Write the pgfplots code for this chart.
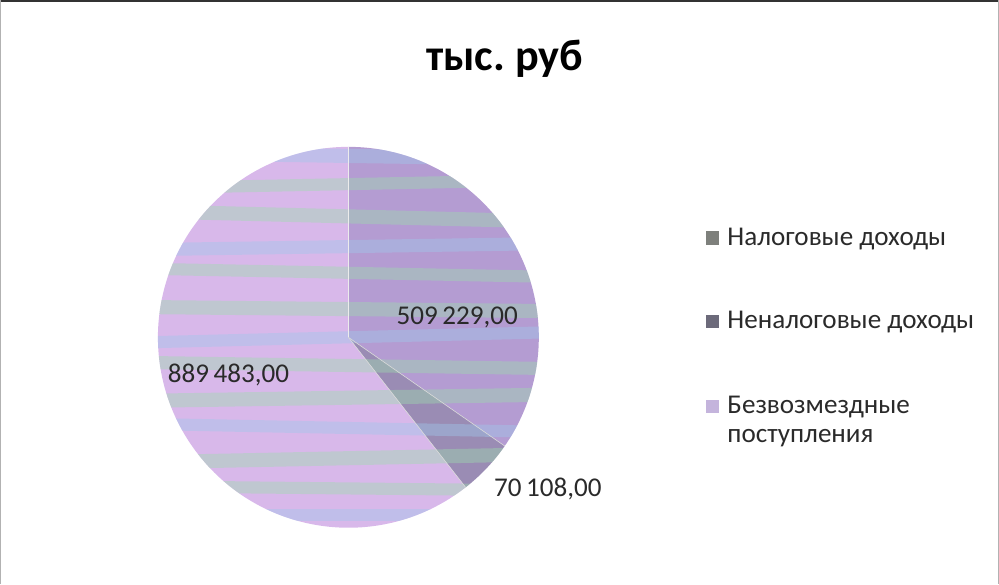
\documentclass[border=0pt]{standalone}
\usepackage{pgfplots}
\pgfplotsset{compat=1.18}
\usepackage{pgfplotstable}
\usepackage{fontspec}
\setmainfont{Carlito}

\definecolor{s1}{HTML}{B49CD2}
\definecolor{s2}{HTML}{9A8CB4}
\definecolor{s3}{HTML}{D8B8EA}
\definecolor{sg}{HTML}{9EDCAE}
\definecolor{sb}{HTML}{A0C8EC}
\definecolor{l1}{HTML}{7E807C}
\definecolor{l2}{HTML}{6C6A7A}
\definecolor{l3}{HTML}{C4B4DC}
\definecolor{txt}{HTML}{2A2A2A}

\newcommand\stripe[4]{\fill[#4,opacity=0.42] (axis cs:150,{#1+#2/2+#3}) -- (axis cs:550,{#1+#2/2-#3}) -- (axis cs:550,{#1-#2/2-#3}) -- (axis cs:150,{#1-#2/2+#3}) -- cycle;}

\pgfplotstableread{
value
509229
70108
889483
}\budget

\begin{document}
\begin{tikzpicture}
\pgfplotstablegetelem{0}{value}\of\budget \edef\va{\pgfplotsretval}
\pgfplotstablegetelem{1}{value}\of\budget \edef\vb{\pgfplotsretval}
\pgfplotstablegetelem{2}{value}\of\budget \edef\vc{\pgfplotsretval}
\edef\tot{\fpeval{\va+\vb+\vc}}
\edef\aA{\fpeval{90-360*\va/\tot}}
\edef\aB{\fpeval{\aA-360*\vb/\tot}}
\begin{axis}[width=999bp,height=581bp,scale only axis,
  xmin=0,xmax=999,ymin=0,ymax=581,hide axis,clip=false]
% frame
\draw[gray!60,line width=0.8bp] (axis cs:5,-5) -- (axis cs:5,574) -- (axis cs:995,574) -- (axis cs:995,-5);
\draw[black!80,line width=1.5bp] (axis cs:5,574) -- (axis cs:995,574);
% slices
\fill[s1] (axis cs:350,240) -- ++(90:189bp) arc[start angle=90,end angle=\aA,radius=189bp] -- cycle;
\fill[s2] (axis cs:350,240) -- ++(\aA:189bp) arc[start angle=\aA,end angle=\aB,radius=189bp] -- cycle;
\fill[s3] (axis cs:350,240) -- ++(\aB:189bp) arc[start angle=\aB,end angle=-270,radius=189bp] -- cycle;
% soft texture of the scanned fill
\begin{scope}
\clip (axis cs:350,240) circle[radius=189bp];
\stripe{420}{14}{3}{sb}
\stripe{392}{12}{-4}{sg}
\stripe{360}{14}{5}{sg}
\stripe{330}{13}{-3}{sb}
\stripe{304}{12}{4}{sg}
\stripe{268}{14}{2}{sg}
\stripe{240}{12}{-5}{sb}
\stripe{212}{13}{3}{sg}
\stripe{180}{14}{-3}{sg}
\stripe{150}{12}{4}{sb}
\stripe{120}{14}{-4}{sg}
\stripe{90}{12}{2}{sg}
\stripe{64}{12}{0}{sb}
\end{scope}
\draw[white!85!gray,line width=0.6bp] (axis cs:350,240) -- ++(90:189bp);
\draw[white!70!gray,line width=0.6bp] (axis cs:350,240) -- ++(\aA:189bp);
\draw[white!70!gray,line width=0.6bp] (axis cs:350,240) -- ++(\aB:189bp);
% title
\node[font=\fontsize{44}{52}\selectfont\bfseries,text=black] at (axis cs:505,516) {тыс.\ руб};
% data labels
\node[font=\fontsize{27}{32}\selectfont,text=txt] at (axis cs:458,260) {509\,229,00};
\node[font=\fontsize{27}{32}\selectfont,text=txt] at (axis cs:231,203) {889\,483,00};
\node[font=\fontsize{27}{32}\selectfont,text=txt] at (axis cs:548,89) {70\,108,00};
% legend
\fill[l1] (axis cs:705,332) rectangle (axis cs:718,345);
\fill[l2] (axis cs:705,249) rectangle (axis cs:718,262);
\fill[l3] (axis cs:705,165) rectangle (axis cs:718,178);
\node[anchor=west,font=\fontsize{27}{32}\selectfont,text=txt,inner sep=0pt] at (axis cs:726,338) {Налоговые доходы};
\node[anchor=west,font=\fontsize{27}{32}\selectfont,text=txt,inner sep=0pt] at (axis cs:726,255) {Неналоговые доходы};
\node[anchor=west,font=\fontsize{27}{32}\selectfont,text=txt,inner sep=0pt] at (axis cs:726,171) {Безвозмездные};
\node[anchor=west,font=\fontsize{27}{32}\selectfont,text=txt,inner sep=0pt] at (axis cs:726,140) {поступления};
\end{axis}
\end{tikzpicture}
\end{document}
